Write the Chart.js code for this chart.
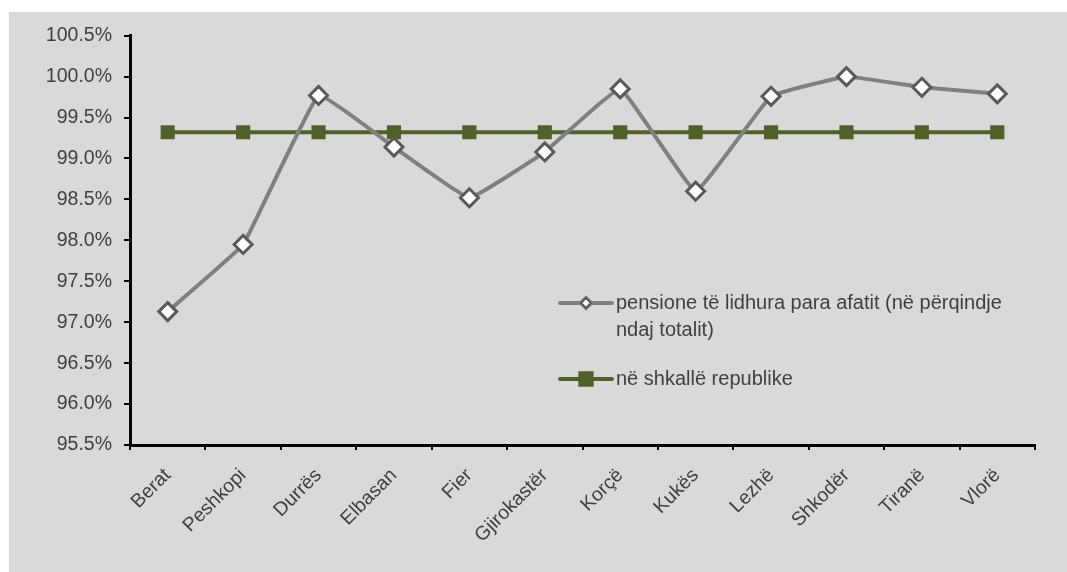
<!DOCTYPE html>
<html>
<head>
<meta charset="utf-8">
<script src="https://cdn.jsdelivr.net/npm/chart.js@4"></script>
<style>
  body { margin: 0; background: #ffffff; }
  #wrap { position: absolute; left: 9px; top: 12px; width: 1058px; height: 560px; background: #d9d9d9; }
</style>
</head>
<body>
<div id="wrap"><canvas id="myChart" width="1058" height="560"></canvas></div>
<script>
const cities = ['Berat', 'Peshkopi', 'Durrës', 'Elbasan', 'Fier', 'Gjirokastër', 'Korçë', 'Kukës', 'Lezhë', 'Shkodër', 'Tiranë', 'Vlorë']
const pensionValues = [97.13, 97.95, 99.77, 99.14, 98.52, 99.08, 99.85, 98.60, 99.76, 100.0, 99.87, 99.79]
const republicValues = [99.32, 99.32, 99.32, 99.32, 99.32, 99.32, 99.32, 99.32, 99.32, 99.32, 99.32, 99.32]
const pensionLabel = ['pensione të lidhura para afatit (në përqindje', 'ndaj totalit)']
const republicLabel = 'në shkallë republike'

const textColor = '#404040'
const fontFamily = '"Liberation Sans", Arial, sans-serif'

// legend drawn inside the plot, like the original
const insideLegend = {
    id: 'insideLegend',
    afterDraw(chart) {
        const c = chart.ctx
        const ds = chart.data.datasets
        const rows = [
            { ds: ds[0], y: 291 },
            { ds: ds[1], y: 367 }
        ]
        c.save()
        rows.forEach(r => {
            c.strokeStyle = r.ds.borderColor
            c.lineWidth = 4
            c.lineCap = 'round'
            c.beginPath()
            c.moveTo(551, r.y)
            c.lineTo(603, r.y)
            c.stroke()
            Chart.helpers.drawPoint(c, {
                pointStyle: r.ds.pointStyle,
                radius: r.ds.pointStyle === 'rect' ? 8 : 5,
                borderWidth: 2
            }, 577, r.y)
            c.fillStyle = r.ds.pointBackgroundColor
            c.strokeStyle = r.ds.pointBorderColor
            c.lineWidth = 2
            c.fill()
            c.stroke()
            c.fillStyle = textColor
            c.font = '20px ' + fontFamily
            c.textBaseline = 'middle'
            const lines = Array.isArray(r.ds.label) ? r.ds.label : [r.ds.label]
            lines.forEach((t, i) => c.fillText(t, 607, r.y + i * 27))
        })
        c.restore()
    }
}

const ctx = document.getElementById('myChart').getContext('2d')
const myChart = new Chart(ctx, {
    type: 'line',
    data: {
        labels: cities,
        datasets: [
            {
                label: pensionLabel,
                data: pensionValues,
                borderColor: '#808080',
                borderWidth: 4,
                tension: 0.08,
                pointStyle: 'rectRot',
                pointRadius: 9,
                pointBorderWidth: 3,
                pointBackgroundColor: '#ffffff',
                pointBorderColor: '#595959'
            },
            {
                label: republicLabel,
                data: republicValues,
                borderColor: '#4f6228',
                borderWidth: 4,
                tension: 0,
                pointStyle: 'rect',
                pointRadius: 10,
                pointBorderWidth: 0,
                pointBackgroundColor: '#4f6228',
                pointBorderColor: '#4f6228'
            }
        ]
    },
    options: {
        responsive: false,
        animation: false,
        layout: {
            padding: { top: 21, right: 32, left: 0, bottom: 0 }
        },
        plugins: {
            legend: { display: false },
            tooltip: { enabled: false }
        },
        scales: {
            x: {
                offset: true,
                grid: {
                    offset: true,
                    drawOnChartArea: false,
                    color: '#000000',
                    lineWidth: 2,
                    tickLength: 5
                },
                border: { color: '#000000', width: 3 },
                ticks: {
                    color: textColor,
                    font: { size: 19.5, family: fontFamily },
                    minRotation: 45,
                    maxRotation: 45,
                    padding: 14
                },
                afterFit(scale) { scale.height = 127 }
            },
            y: {
                min: 95.5,
                max: 100.5,
                grid: {
                    drawOnChartArea: false,
                    color: '#000000',
                    lineWidth: 2,
                    tickLength: 6
                },
                border: { color: '#000000', width: 3 },
                ticks: {
                    stepSize: 0.5,
                    color: textColor,
                    font: { size: 19.5, family: fontFamily },
                    padding: 12,
                    callback: v => v.toFixed(1) + '%'
                },
                afterFit(scale) { scale.width = 121 }
            }
        }
    },
    plugins: [insideLegend]
})
</script>
</body>
</html>
